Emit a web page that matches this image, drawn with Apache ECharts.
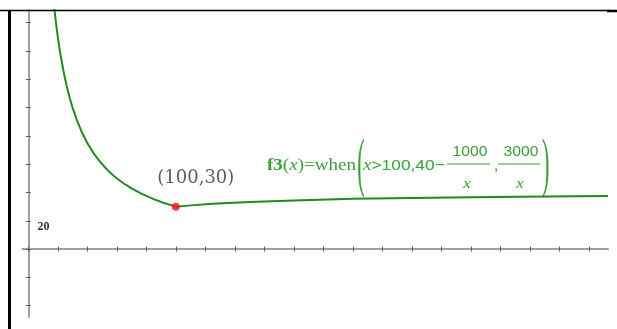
<!DOCTYPE html>
<html>
<head>
<meta charset="utf-8">
<script src="https://cdn.jsdelivr.net/npm/echarts@6/dist/echarts.min.js"></script>
<style>
html,body{margin:0;padding:0;background:#fff;}
#chart{width:617px;height:329px;}
</style>
</head>
<body>
<div id="chart"></div>
<script>
// Left branch (x <= 100): values
const xLeft = [17, 18, 19, 20, 21, 22, 24, 26, 28, 30, 33, 36, 40, 44, 48, 53, 58, 64, 70, 77, 85, 92, 100];
const yLeft = [176.5, 166.7, 157.9, 150, 142.9, 136.4, 125, 115.4, 107.1, 100, 90.9, 83.3, 75, 68.2, 62.5, 56.6, 51.7, 46.9, 42.9, 39, 35.3, 32.6, 30];
// Right branch (x > 100)
const xRight = [110, 125, 150, 180, 220, 260, 300, 350, 393];
const yRight = [30.9, 32, 33.3, 34.4, 35.5, 36.2, 36.7, 37.1, 37.5];
// Marked point
const pointX = [100];
const pointY = [30];
// Axis ticks and labels
const xTicks = [0,20,40,60,80,100,120,140,160,180,200,220,240,260,280,300,320,340,360,380];
const yTicks = [-40,-20,0,20,40,60,80,100,120,140,160];
const yTickLabels = [20];

const curveData = xLeft.map((x,i)=>[x,yLeft[i]]).concat(xRight.map((x,i)=>[x,yRight[i]]));
const pointData = pointX.map((x,i)=>[x,pointY[i]]);

const G = '#38a038';
const LINE_G = '#1f8c1f';
const AX = '#9a9a9a';
const TK = '#5a5a5a';

const gridBox = {left:22.4, top:10, width:585.6, height:307, containLabel:false, outerBoundsMode:'none'};

function xAx(idx, inside){
  return {gridIndex:idx, type:'value', min:-4, max:393,
    axisLine:{show:true, onZero:true, lineStyle:{color:AX,width:1.5}},
    axisTick:{show:true, inside:inside, length:2.5, customValues:xTicks, lineStyle:{color:TK,width:1}},
    axisLabel:{show:false}, splitLine:{show:false}};
}
function yAx(idx, inside, labels){
  return {gridIndex:idx, type:'value', min:-48, max:169,
    axisLine:{show:true, onZero:true, lineStyle:{color:AX,width:1.5}},
    axisTick:{show:true, inside:inside, length:2.5, customValues:yTicks, lineStyle:{color:TK,width:1}},
    axisLabel: labels ? {show:true, inside:true, margin:15, customValues:yTickLabels, verticalAlign:'top',
      fontFamily:'Liberation Serif', fontWeight:'bold', fontSize:12, color:'#333'} : {show:false},
    splitLine:{show:false}};
}

const chart = echarts.init(document.getElementById('chart'), null, {renderer:'canvas'});
chart.setOption({
  animation:false,
  grid:[Object.assign({}, gridBox), Object.assign({}, gridBox)],
  xAxis:[xAx(0,false), xAx(1,true)],
  yAxis:[yAx(0,false,true), yAx(1,true,false)],
  series:[
    {type:'line', xAxisIndex:0, yAxisIndex:0, data:curveData, showSymbol:false, smooth:false, clip:true,
     lineStyle:{color:LINE_G, width:2}, silent:true, z:3},
    {type:'scatter', xAxisIndex:0, yAxisIndex:0, data:pointData, symbolSize:8,
     itemStyle:{color:'#ff1010'}, z:4,
     label:{show:true, position:'top', offset:[20,-10],
       formatter:p=>'(' + p.value[0] + ',' + p.value[1] + ')',
       fontFamily:'DejaVu Serif', fontSize:18, color:'#333'}}
  ],
  graphic:[
    {type:'line', shape:{x1:9.5,y1:10,x2:9.5,y2:329}, style:{stroke:'#000',lineWidth:3}, z:10},
    {type:'line', shape:{x1:0,y1:10.5,x2:610,y2:10.5}, style:{stroke:'#000',lineWidth:1.5}, z:10},
    {type:'line', shape:{x1:607,y1:11,x2:617,y2:11}, style:{stroke:'#000',lineWidth:2.5}, z:10},
    {type:'group', x:267, y:0, scaleX:1.12, z:10, children:[
      {type:'text', x:0, y:166, style:{text:'{b|f3}{n|(}{i|x}{n|)=when}', fill:G,
        verticalAlign:'middle', textVerticalAlign:'middle',
        rich:{b:{fontFamily:'Liberation Serif', fontWeight:'bold', fontSize:17, fill:G, color:G},
              n:{fontFamily:'Liberation Serif', fontSize:17, fill:G, color:G},
              i:{fontFamily:'Liberation Serif', fontStyle:'italic', fontSize:17, fill:G, color:G}}}},
      {type:'text', x:80.5, y:166.5, scaleY:3.3, style:{text:'(', font:'20px "Liberation Serif"', fill:G,
        verticalAlign:'middle', textVerticalAlign:'middle'}},
      {type:'text', x:85.7, y:166, style:{text:'{i|x}{s|>100,40−}', fill:G,
        verticalAlign:'middle', textVerticalAlign:'middle',
        rich:{i:{fontFamily:'Liberation Serif', fontStyle:'italic', fontSize:17, fill:G, color:G},
              s:{fontFamily:'Liberation Sans', fontSize:15.5, fill:G, color:G}}}},
      {type:'text', x:181.2, y:152, style:{text:'1000', font:'14px "Liberation Sans"', fill:G,
        align:'center', textAlign:'center', verticalAlign:'middle', textVerticalAlign:'middle'}},
      {type:'line', shape:{x1:160.7,y1:164,x2:199.1,y2:164}, style:{stroke:G,lineWidth:1}},
      {type:'text', x:178.6, y:184, style:{text:'x', font:'italic 15px "Liberation Serif"', fill:G,
        align:'center', textAlign:'center', verticalAlign:'middle', textVerticalAlign:'middle'}},
      {type:'text', x:202.5, y:166, style:{text:',', font:'15px "Liberation Sans"', fill:G,
        verticalAlign:'middle', textVerticalAlign:'middle'}},
      {type:'text', x:226.8, y:152, style:{text:'3000', font:'14px "Liberation Sans"', fill:G,
        align:'center', textAlign:'center', verticalAlign:'middle', textVerticalAlign:'middle'}},
      {type:'line', shape:{x1:206.2,y1:164,x2:243.7,y2:164}, style:{stroke:G,lineWidth:1}},
      {type:'text', x:225.9, y:184, style:{text:'x', font:'italic 15px "Liberation Serif"', fill:G,
        align:'center', textAlign:'center', verticalAlign:'middle', textVerticalAlign:'middle'}},
      {type:'text', x:245.5, y:166.5, scaleY:3.3, style:{text:')', font:'20px "Liberation Serif"', fill:G,
        verticalAlign:'middle', textVerticalAlign:'middle'}}
    ]}
  ]
});
</script>
</body>
</html>
